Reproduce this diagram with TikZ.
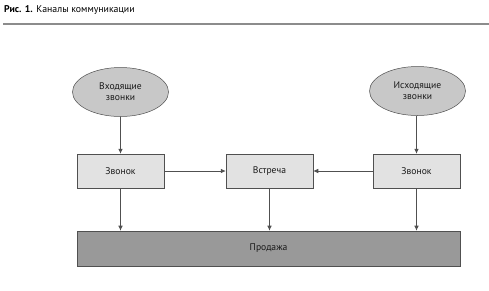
\documentclass[tikz,border=0pt]{standalone}
\usepackage{fontspec}
\setmainfont{PT Sans}
\usetikzlibrary{shapes.geometric,arrows.meta}
\definecolor{ellfill}{HTML}{C8C8C8}
\definecolor{boxfill}{HTML}{E2E2E2}
\definecolor{salefill}{HTML}{999999}
\definecolor{edgecol}{HTML}{505050}
\begin{document}
\begin{tikzpicture}[x=1pt,y=-1pt,
  every node/.style={font=\fontsize{9.6}{11}\selectfont, text=black!90},
  ellnode/.style={ellipse, draw=edgecol, fill=ellfill, minimum width=96pt, minimum height=49pt, inner sep=0pt, align=center, line width=0.5pt},
  boxnode/.style={rectangle, draw=edgecol, fill=boxfill, minimum width=87pt, minimum height=34pt, inner sep=0pt, line width=0.5pt},
  salenode/.style={rectangle, draw=edgecol, fill=salefill, minimum width=383pt, minimum height=35pt, inner sep=0pt, line width=0.6pt},
  conn/.style={draw=edgecol, line width=0.6pt, -{Latex[length=5pt,width=4.5pt]}}]
\useasboundingbox (0,0) rectangle (489,290);
\node[anchor=west, inner sep=0pt, font=\fontsize{9.8}{11}\selectfont, text=black] (title) at (4,10) {\textbf{Рис. 1.} Каналы коммуникации};
\draw[draw=black!45, line width=1.5pt] (3,24) -- (489,24);
\node[ellnode] (in) at (120.5,92) {Входящие\\звонки};
\node[ellnode] (out) at (417.5,91) {Исходящие\\звонки};
\node[boxnode] (call1) at (120.5,171) {Звонок};
\node[boxnode] (meet) at (269.5,171) {Встреча};
\node[boxnode] (call2) at (416.5,171) {Звонок};
\node[salenode] (sale) at (268.5,248.5) {Продажа};
\draw[conn] (in) -- (call1);
\draw[conn] (out.south -| call2) -- (call2);
\draw[conn] (call1) -- (meet);
\draw[conn] (call2) -- (meet);
\draw[conn] (call1) -- (call1 |- sale.north);
\draw[conn] (meet) -- (meet |- sale.north);
\draw[conn] (call2) -- (call2 |- sale.north);
\end{tikzpicture}
\end{document}
